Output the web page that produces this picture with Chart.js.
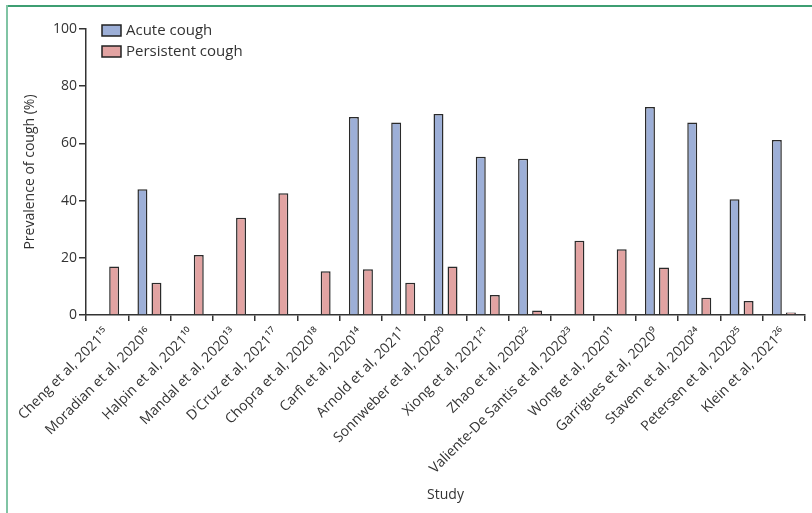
<!DOCTYPE html>
<html>
<head>
<meta charset="utf-8">
<script src="https://cdn.jsdelivr.net/npm/chart.js@4"></script>
<style>
  html, body { margin: 0; padding: 0; background: #ffffff; }
  #wrap { width: 812px; height: 513px; position: relative; }
</style>
</head>
<body>
<div id="wrap"><canvas id="c" width="812" height="513"></canvas></div>
<script>
// ---- data ----
const studies = ["Cheng et al, 2021", "Moradian et al, 2020", "Halpin et al, 2021", "Mandal et al, 2020",
  "D'Cruz et al, 2021", "Chopra et al, 2020", "Carfì et al, 2020", "Arnold et al, 2021",
  "Sonnweber et al, 2020", "Xiong et al, 2021", "Zhao et al, 2020", "Valiente-De Santis et al, 2020",
  "Wong et al, 2020", "Garrigues et al, 2020", "Stavem et al, 2020", "Petersen et al, 2020", "Klein et al, 2021"];
const refs = ["15", "16", "10", "13", "17", "18", "14", "1", "20", "21", "22", "23", "11", "9", "24", "25", "26"];
const acuteCough = [null, 44, null, null, null, null, 69.2, 67.3, 70.3, 55.3, 54.6, null, null, 72.7, 67.3, 40.5, 61.2];
const persistentCough = [17, 11.3, 21, 34, 42.6, 15.3, 16, 11.3, 17, 7, 1.6, 26, 23, 16.6, 6, 4.9, 0.9];
const yTicks = [0, 20, 40, 60, 80, 100];

const supMap = {"0":"⁰","1":"¹","2":"²","3":"³","4":"⁴","5":"⁵","6":"⁶","7":"⁷","8":"⁸","9":"⁹"};
const toSup = s => s.split("").map(c => supMap[c] || c).join("");
const labels = studies.map((s, i) => s + toSup(refs[i]));

const FONT = "'Open Sans', 'DejaVu Sans', sans-serif";
const TXT = "#333333";

const framePlugin = {
  id: "frame",
  afterDraw(chart) {
    const ctx = chart.ctx;
    ctx.save();
    ctx.fillStyle = "#3d9e72";
    ctx.fillRect(6, 5, 806, 2);
    ctx.fillStyle = "#80c4a4";
    ctx.fillRect(6, 5, 2, 508);
    ctx.restore();
  }
};

const legendPlugin = {
  id: "customLegend",
  afterDraw(chart) {
    const ctx = chart.ctx;
    const x0 = chart.chartArea.left + 16;
    const y0 = 25;
    ctx.save();
    chart.data.datasets.forEach((ds, i) => {
      const y = y0 + i * 21;
      ctx.fillStyle = ds.backgroundColor;
      ctx.fillRect(x0, y, 19, 11);
      ctx.strokeStyle = "#222";
      ctx.lineWidth = 1.5;
      ctx.strokeRect(x0, y, 19, 11);
      ctx.fillStyle = TXT;
      ctx.font = "15px " + FONT;
      ctx.textBaseline = "middle";
      ctx.textAlign = "left";
      ctx.fillText(ds.label, x0 + 24, y + 5.5);
    });
    ctx.restore();
  }
};

new Chart(document.getElementById("c"), {
  type: "bar",
  data: {
    labels: labels,
    datasets: [
      { label: "Acute cough", data: acuteCough, backgroundColor: "#9dafd7", borderColor: "#2a2a2a", borderWidth: 1.5,
        categoryPercentage: 0.664, barPercentage: 0.71 },
      { label: "Persistent cough", data: persistentCough, backgroundColor: "#e2a3a2", borderColor: "#2a2a2a", borderWidth: 1.5,
        categoryPercentage: 0.664, barPercentage: 0.71 }
    ]
  },
  options: {
    responsive: false,
    animation: false,
    layout: { padding: { left: 22, top: 29, right: 7, bottom: 10 } },
    plugins: { legend: { display: false }, tooltip: { enabled: false } },
    scales: {
      x: {
        offset: true,
        grid: { display: true, offset: true, drawOnChartArea: false, drawTicks: true, tickLength: 6, color: "#333", lineWidth: 1.5 },
        border: { display: true, color: "#333", width: 1.5 },
        ticks: { autoSkip: false, minRotation: 45, maxRotation: 45, padding: 4, color: TXT, font: { family: FONT, size: 14 } },
        title: { display: true, text: "Study", color: TXT, font: { family: FONT, size: 14 }, padding: { top: 0, bottom: 0 } },
        afterFit: s => { s.height = 513 - 315 - 10; }
      },
      y: {
        min: 0, max: 100,
        afterBuildTicks: s => { s.ticks = yTicks.map(v => ({ value: v })); },
        grid: { display: true, drawOnChartArea: false, drawTicks: true, tickLength: 7, color: "#333", lineWidth: 1.5 },
        border: { display: true, color: "#333", width: 1.5 },
        ticks: { padding: 2, color: TXT, font: { family: FONT, size: 14 } },
        title: { display: true, text: "Prevalence of cough (%)", color: TXT, font: { family: FONT, size: 14 }, padding: { top: 0, bottom: 0 } },
        afterFit: s => { s.width = 86 - 22; }
      }
    }
  },
  plugins: [framePlugin, legendPlugin]
});
</script>
</body>
</html>
